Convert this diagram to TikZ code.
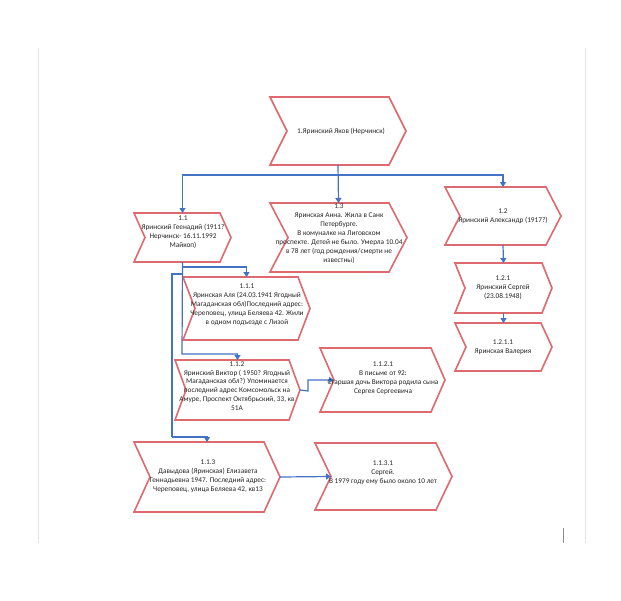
\documentclass[tikz,border=0pt]{standalone}
\usepackage{fontspec}
\setmainfont{Carlito}
\usetikzlibrary{arrows.meta}
\definecolor{chevred}{RGB}{222,105,110}
\definecolor{connblue}{RGB}{68,114,196}
\definecolor{pageline}{RGB}{228,228,228}
\tikzset{
  boxnode/.style={draw=none,inner sep=0pt,outer sep=0pt},
  chevline/.style={draw=chevred,line width=1.6pt,fill=white,line join=miter},
  conn/.style={draw=connblue,line width=1.2pt,-{Triangle[width=6pt,length=5pt]}},
  txt/.style={align=center,inner sep=0pt,text=black!85,font=\fontsize{7.3}{8.9}\selectfont},
}
% name, L, T, Y1, Y2, depth
\newcommand\chevbox[6]{%
  \node[boxnode,minimum width={#3pt-#2pt},minimum height={#5pt-#4pt}] (#1) at ({(#2+#3)/2},{(#4+#5)/2}) {};
  \draw[chevline] (#1.north west) -- ([xshift=-#6pt]#1.north east) -- (#1.east)
    -- ([xshift=-#6pt]#1.south east) -- (#1.south west) -- ([xshift=#6pt]#1.west) -- cycle;
}
\begin{document}
\begin{tikzpicture}[x=1pt,y=-1pt]
\useasboundingbox[fill=white] (0,0) rectangle (621,600);
% page edges
\draw[pageline,line width=1pt] (38,48) -- (38,543);
\draw[pageline,line width=1pt] (585,48) -- (585,543);
\draw[black!45,line width=0.8pt] (563,528) -- (563,543);
% boxes
\chevbox{n1}{270}{406}{97}{165}{17}
\chevbox{n11}{134}{231}{213}{262}{11}
\chevbox{n13}{270}{407}{203}{272}{18}
\chevbox{n12}{445}{561}{187}{245}{15}
\chevbox{n121}{455}{552}{263}{313}{10}
\chevbox{n1211}{455}{552}{323}{371}{11}
\chevbox{n111}{183}{310}{277}{340}{12}
\chevbox{n112}{175}{300}{360}{420}{11}
\chevbox{n1121}{320}{445}{348}{412}{14}
\chevbox{n113}{134}{280}{442}{512}{16}
\chevbox{n1131}{315}{452}{443}{510}{16}
% junctions
\coordinate (j1) at (338,175);
\coordinate (j2) at (182,354);
\coordinate (j3) at (182,267);
\coordinate (j4) at (182,274);
\coordinate (j5) at (172,437);
\coordinate (j6) at (308,391);
% connectors
\draw[conn] (n1.south) -- (n13.north);
\draw[conn] (j1) -| (n11.north);
\draw[conn] (j1) -| (n12.north);
\draw[conn] (n12.south) -- (n121.north);
\draw[conn] (n121.south) -- (n1211.north);
\draw[conn] (n11.south) -- (j2) -| (n112.north);
\draw[conn] (j3) -| (n111.north);
\draw[draw=connblue,line width=1.2pt] (j4) -| (j5);
\draw[conn] (j5) -| (n113.north);
\draw[conn] (n112.east) -- (j6) |- ([xshift=14pt]n1121.west);
\draw[conn] (n113.east) -- ([xshift=16pt]n1131.west);
% texts
\node[txt] (t1) at (341,131) {1.Яринский Яков (Нерчинск)};
\node[txt] (t11) at (183,232) {1.1\\Яринский Геенадий (1911?\\Нерчинск- 16.11.1992\\Майкоп)};
\node[txt] (t13) at (339,233.5) {1.3\\Яринская Анна. Жила в Санк\\Петербурге.\\В комуналке на Лиговском\\проспекте. Детей не было. Умерла 10.04\\в 78 лет (год рождения/смерти не\\известны)};
\node[txt] (t12) at (503,216.5) {1.2\\Яринский Александр (1917?)};
\node[txt] (t121) at (503,288) {1.2.1\\Яринский Сергей\\(23.08.1948)};
\node[txt] (t1211) at (503,347) {1.2.1.1\\Яринская Валерия};
\node[txt] (t111) at (247,304.5) {1.1.1\\Яринская Аля (24.03.1941 Ягодный\\Магаданская обл)Последний адрес:\\Череповец, улица Беляева 42. Жили\\в одном подъезде с Лизой};
\node[txt] (t112) at (237,386) {1.1.2\\Яринский Виктор ( 1950? Ягодный\\Магаданская обл?) Упоминается\\последний адрес Комсомольск на\\Амуре, Проспект Октябрьский, 33, кв\\51А};
\node[txt] (t1121) at (383,378.5) {1.1.2.1\\В письме от 92:\\Старшая дочь Виктора родила сына\\Сергея Сергеевича};
\node[txt] (t113) at (208,476.5) {1.1.3\\Давыдова (Яринская) Елизавета\\Геннадьевна 1947. Последний адрес:\\Череповец, улица Беляева 42, кв13};
\node[txt] (t1131) at (383,473) {1.1.3.1\\Сергей.\\В 1979 году ему было около 10 лет};
\end{tikzpicture}
\end{document}
